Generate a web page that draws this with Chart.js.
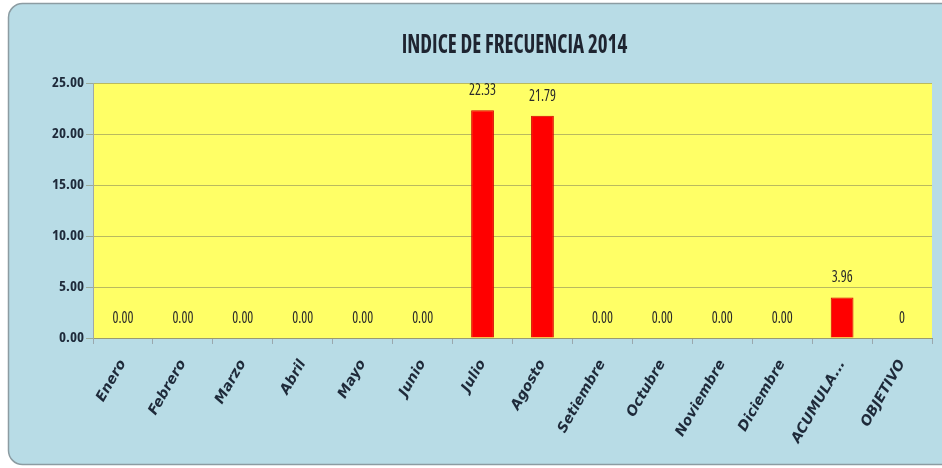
<!DOCTYPE html>
<html>
<head>
<meta charset="utf-8">
<script src="https://cdn.jsdelivr.net/npm/chart.js@4/dist/chart.umd.min.js"></script>
<style>
  html, body { margin: 0; padding: 0; background: #ffffff; }
  #wrap { width: 942px; height: 468px; position: relative; }
</style>
</head>
<body>
<div id="wrap"><canvas id="c" width="942" height="468"></canvas></div>
<script>
const chartTitle = "INDICE DE FRECUENCIA 2014";
const categories = ["Enero", "Febrero", "Marzo", "Abril", "Mayo", "Junio", "Julio", "Agosto", "Setiembre", "Octubre", "Noviembre", "Diciembre", "ACUMULA...", "OBJETIVO"];
const values = [0, 0, 0, 0, 0, 0, 22.33, 21.79, 0, 0, 0, 0, 3.96, 0];
const labelDecimals = [2, 2, 2, 2, 2, 2, 2, 2, 2, 2, 2, 2, 2, 0];
const yTicks = [0, 5, 10, 15, 20, 25];

const COND = '"Open Sans", sans-serif';

function tallText(ctx, txt, x, y, sy) {
  ctx.save();
  ctx.translate(x, y);
  ctx.scale(1, sy);
  ctx.fillText(txt, 0, 0);
  ctx.restore();
}

const decorPlugin = {
  id: 'decor',
  beforeDraw(chart) {
    const ctx = chart.ctx;
    const W = chart.width, H = chart.height;
    ctx.save();
    ctx.fillStyle = '#ffffff';
    ctx.fillRect(0, 0, W, H);
    const x = 8.5, y = 3.5, w = W + 10, h = H - 7, r = 14;
    ctx.beginPath();
    ctx.moveTo(x + r, y);
    ctx.lineTo(x + w, y);
    ctx.lineTo(x + w, y + h);
    ctx.lineTo(x + r, y + h);
    ctx.arcTo(x, y + h, x, y + h - r, r);
    ctx.lineTo(x, y + r);
    ctx.arcTo(x, y, x + r, y, r);
    ctx.closePath();
    ctx.fillStyle = '#B8DCE6';
    ctx.fill();
    ctx.lineWidth = 1.5;
    ctx.strokeStyle = '#8C9CA2';
    ctx.stroke();
    const a = chart.chartArea;
    ctx.fillStyle = '#FFFF66';
    ctx.fillRect(a.left, a.top, a.right - a.left, a.bottom - a.top);
    ctx.fillStyle = '#1E2430';
    ctx.font = 'condensed bold 21px ' + COND;
    ctx.textAlign = 'center';
    ctx.textBaseline = 'middle';
    tallText(ctx, chartTitle, (a.left + a.right) / 2 + 2, 45, 1.3);
    ctx.restore();
  },
  afterDatasetsDraw(chart) {
    const ctx = chart.ctx;
    const meta = chart.getDatasetMeta(0);
    const ds = chart.data.datasets[0];
    ctx.save();
    ctx.fillStyle = '#2A2A2A';
    ctx.font = 'condensed 14px ' + COND;
    ctx.textAlign = 'center';
    ctx.textBaseline = 'middle';
    meta.data.forEach((bar, i) => {
      const v = ds.data[i];
      tallText(ctx, v.toFixed(labelDecimals[i]), bar.x, bar.y - 20, 1.2);
    });
    ctx.restore();
  }
};

new Chart(document.getElementById('c'), {
  type: 'bar',
  data: {
    labels: categories,
    datasets: [{
      data: values,
      backgroundColor: '#FF0000',
      borderColor: '#D00000',
      borderWidth: 1,
      categoryPercentage: 1,
      barPercentage: 0.38
    }]
  },
  options: {
    responsive: false,
    animation: false,
    events: [],
    layout: { padding: { top: 83, left: 0, right: 10, bottom: 0 } },
    plugins: {
      legend: { display: false },
      title: { display: false },
      tooltip: { enabled: false }
    },
    scales: {
      x: {
        afterFit(scale) { scale.height = 130; },
        grid: {
          offset: true,
          drawOnChartArea: false,
          color: '#9AA8AE',
          tickLength: 6
        },
        border: { color: '#9A9A70', width: 1 },
        ticks: {
          minRotation: 60,
          maxRotation: 60,
          autoSkip: false,
          padding: 13,
          color: '#1E2A3A',
          font: { family: '"DejaVu Sans", sans-serif', size: 14, style: 'oblique', weight: 'bold' }
        }
      },
      y: {
        min: 0,
        max: 25,
        afterFit(scale) { scale.width = 93; },
        afterBuildTicks(scale) { scale.ticks = yTicks.map(v => ({ value: v })); },
        grid: {
          color: 'rgba(130,130,90,0.55)',
          tickLength: 7
        },
        border: { color: '#A0A8A8', width: 1 },
        ticks: {
          padding: 2,
          color: '#1E2A3A',
          font: { family: COND, size: 15, weight: 'condensed bold' },
          callback: v => Number(v).toFixed(2)
        }
      }
    }
  },
  plugins: [decorPlugin]
});
</script>
</body>
</html>
